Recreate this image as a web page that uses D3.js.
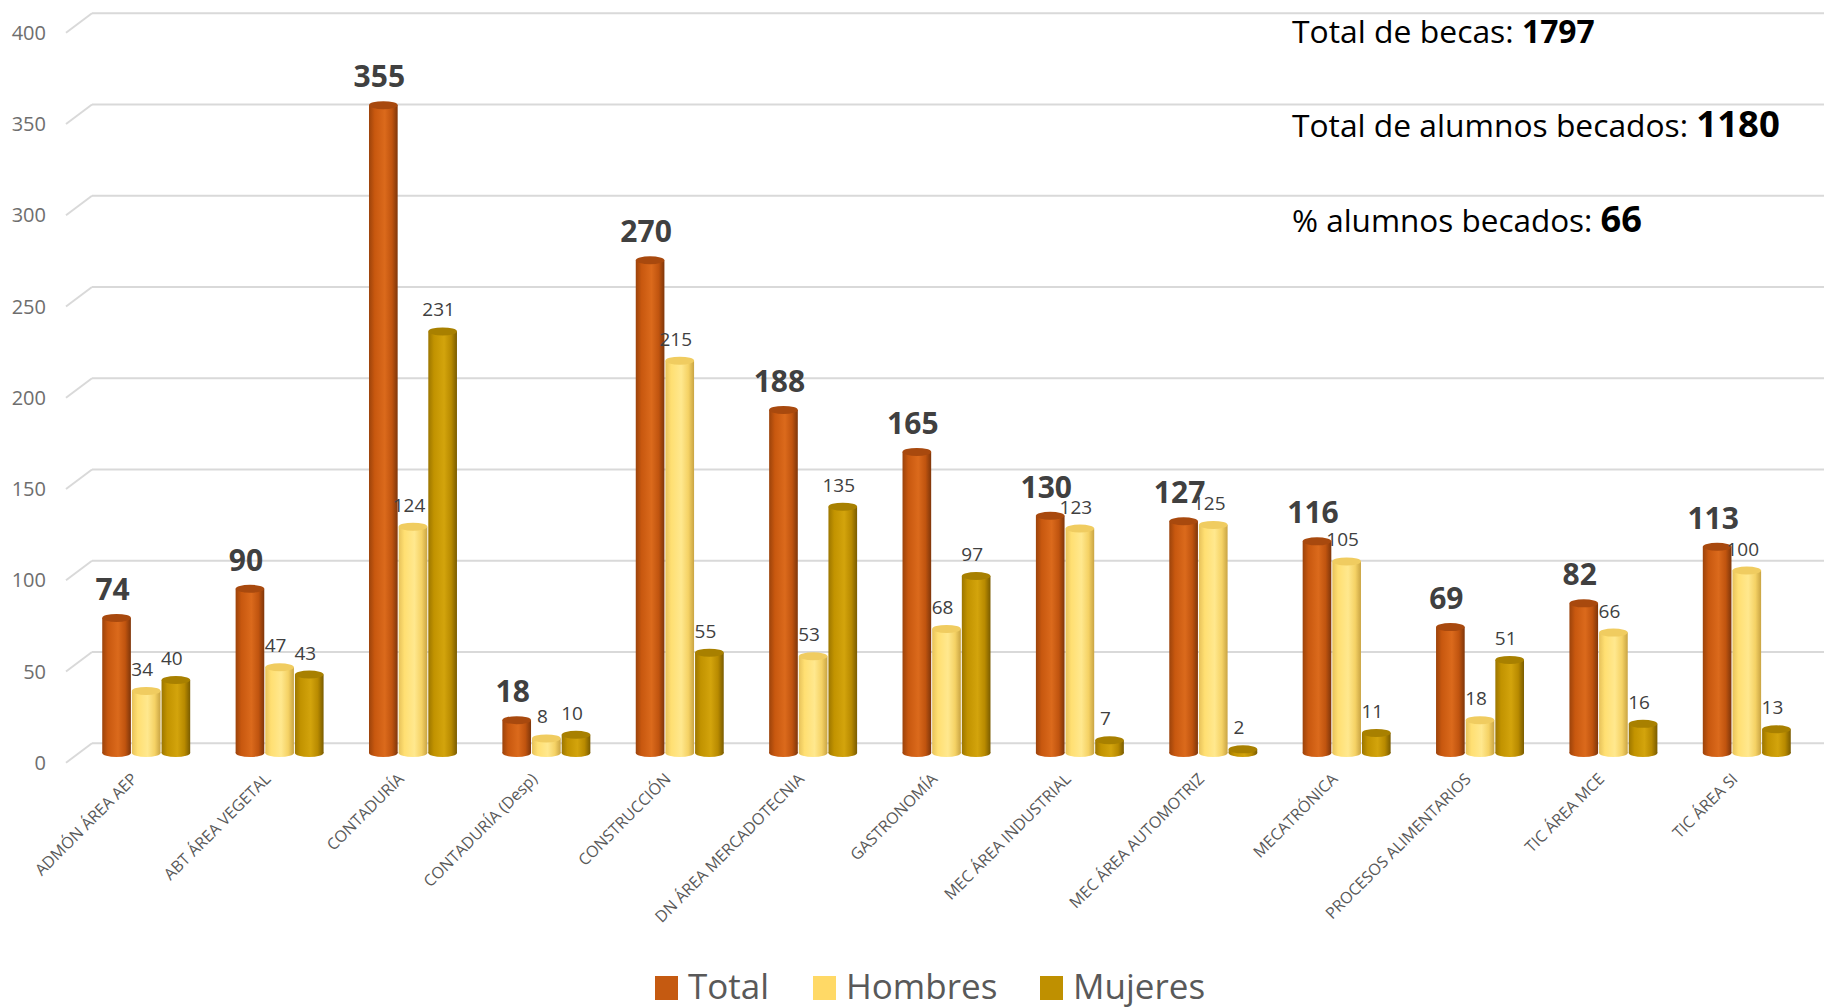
<!DOCTYPE html>
<html><head><meta charset="utf-8">
<script src="https://cdn.jsdelivr.net/npm/d3@7"></script>
<style>body{margin:0;background:#fff}svg{display:block}</style>
</head><body>
<svg id="chart" width="1824" height="1008"></svg>
<script>
const categories = ["ADMÓN ÁREA AEP","ABT ÁREA VEGETAL","CONTADURÍA","CONTADURÍA (Desp)","CONSTRUCCIÓN","DN ÁREA MERCADOTECNIA","GASTRONOMÍA","MEC ÁREA INDUSTRIAL","MEC ÁREA AUTOMOTRIZ","MECATRÓNICA","PROCESOS ALIMENTARIOS","TIC ÁREA MCE","TIC ÁREA SI"];
const seriesNames = ["Total","Hombres","Mujeres"];
const total   = [74, 90, 355, 18, 270, 188, 165, 130, 127, 116, 69, 82, 113];
const hombres = [34, 47, 124, 8, 215, 53, 68, 123, 125, 105, 18, 66, 100];
const mujeres = [40, 43, 231, 10, 55, 135, 97, 7, 2, 11, 51, 16, 13];
const yTicks = [0, 50, 100, 150, 200, 250, 300, 350, 400];
const summaryLines = [["Total de becas: ", "1797"], ["Total de alumnos becados: ", "1180"], ["% alumnos becados: ", "66"]];

const seriesValues = [total, hombres, mujeres];
const colors = {Total:"#C55A11", Hombres:"#FFD966", Mujeres:"#BF9000"};
const shades = {
  Total:  ["#9C430B","#C8580F","#DB6A1C","#C0540F","#7F360A"],
  Hombres:["#E7C25A","#FFDF72","#FFE88E","#F5D265","#C9A443"],
  Mujeres:["#9C7600","#C29300","#D3A40C","#B88A00","#7A5C00"]
};
const topCol = {Total:"#A8490E", Hombres:"#F0CC60", Mujeres:"#A88000"};

const svg = d3.select("#chart");
const font = "'Open Sans', 'Noto Sans', sans-serif";
const DX = 26, DY = 19.5;

const y = d3.scaleLinear().domain([0, 400]).range([753, 23]);
const x0 = d3.scaleBand().domain(categories).range([79.5, 1813.5]).paddingInner(0.333).paddingOuter(0.1667);
const x1 = d3.scaleBand().domain(seriesNames).range([0, x0.bandwidth()]).padding(0);

// gradients
const defs = svg.append("defs");
seriesNames.forEach(s => {
  const g = defs.append("linearGradient").attr("id", "g" + s).attr("x1", "0").attr("x2", "1").attr("y1", "0").attr("y2", "0");
  [0, 0.2, 0.55, 0.8, 1].forEach((o, i) => g.append("stop").attr("offset", o).attr("stop-color", shades[s][i]));
});

// gridlines
const grid = svg.append("g");
yTicks.forEach(t => {
  const yb = y(t) - DY / 2;
  grid.append("line").attr("x1", 66 + DX).attr("x2", 1824).attr("y1", yb).attr("y2", yb)
    .attr("stroke", "#D9D9D9").attr("stroke-width", 2);
  grid.append("line").attr("x1", 66).attr("x2", 66 + DX).attr("y1", yb + DY).attr("y2", yb)
    .attr("stroke", "#D9D9D9").attr("stroke-width", 2);
  grid.append("text").attr("x", 46).attr("y", yb + DY).attr("dy", "0.35em").attr("text-anchor", "end")
    .attr("font-family", font).attr("font-size", 20).attr("fill", "#6E6E6E").text(t);
});

// summary text
const sumY = [43, 137, 232];
const sumW = [303, 488, 350];
const boldRatio = [1.0, 1.15, 1.15];
summaryLines.forEach((l, i) => {
  const t = svg.append("text").attr("x", 1292).attr("y", sumY[i]).attr("font-family", font).attr("fill", "#000");
  const a = t.append("tspan").attr("font-size", 28).text(l[0]);
  const b = t.append("tspan").attr("font-size", 28 * boldRatio[i]).attr("font-weight", "bold").text(l[1]);
  const w = t.node().getComputedTextLength();
  const k = sumW[i] / w;
  a.attr("font-size", 28 * k);
  b.attr("font-size", 28 * boldRatio[i] * k);
});

// bars
const ry = 4;
const bars = svg.append("g");
categories.forEach((c, ci) => {
  seriesNames.forEach((s, si) => {
    const v = seriesValues[si][ci];
    const xl = x0(c) + x1(s) + 0.5, w = x1.bandwidth() - 1;
    const cx = xl + w / 2;
    const y0 = y(0), yt = y(v);
    const g = bars.append("g");
    g.append("ellipse").attr("cx", cx).attr("cy", y0).attr("rx", w / 2).attr("ry", ry).attr("fill", `url(#g${s})`);
    g.append("rect").attr("x", xl).attr("y", yt).attr("width", w).attr("height", Math.max(0, y0 - yt)).attr("fill", `url(#g${s})`);
    g.append("ellipse").attr("cx", cx).attr("cy", yt).attr("rx", w / 2).attr("ry", ry).attr("fill", topCol[s]);
  });
});

// labels
const labels = svg.append("g");
categories.forEach((c, ci) => {
  seriesNames.forEach((s, si) => {
    const v = seriesValues[si][ci];
    const cx = x0(c) + x1(s) + x1.bandwidth() / 2 - 4;
    const isT = s === "Total";
    labels.append("text").attr("x", cx).attr("y", y(v) - (isT ? 18 : 15)).attr("text-anchor", "middle")
      .attr("font-family", font).attr("font-size", isT ? 30 : 19).attr("font-weight", isT ? "bold" : "normal")
      .attr("fill", "#404040").text(v);
  });
  const gx = x0(c) + x0.bandwidth() / 2 - 8;
  labels.append("text").attr("transform", `translate(${gx},780) rotate(-45)`).attr("text-anchor", "end")
    .attr("font-family", font).attr("font-size", 16).attr("fill", "#595959").text(c);
});

// legend
const legX = [655, 813, 1040];
const leg = svg.append("g");
seriesNames.forEach((s, i) => {
  leg.append("rect").attr("x", legX[i]).attr("y", 976).attr("width", 23).attr("height", 24).attr("fill", colors[s]);
  leg.append("text").attr("x", legX[i] + 33).attr("y", 999).attr("font-family", font).attr("font-size", 35)
    .attr("fill", "#595959").text(s);
});
</script>
</body></html>
